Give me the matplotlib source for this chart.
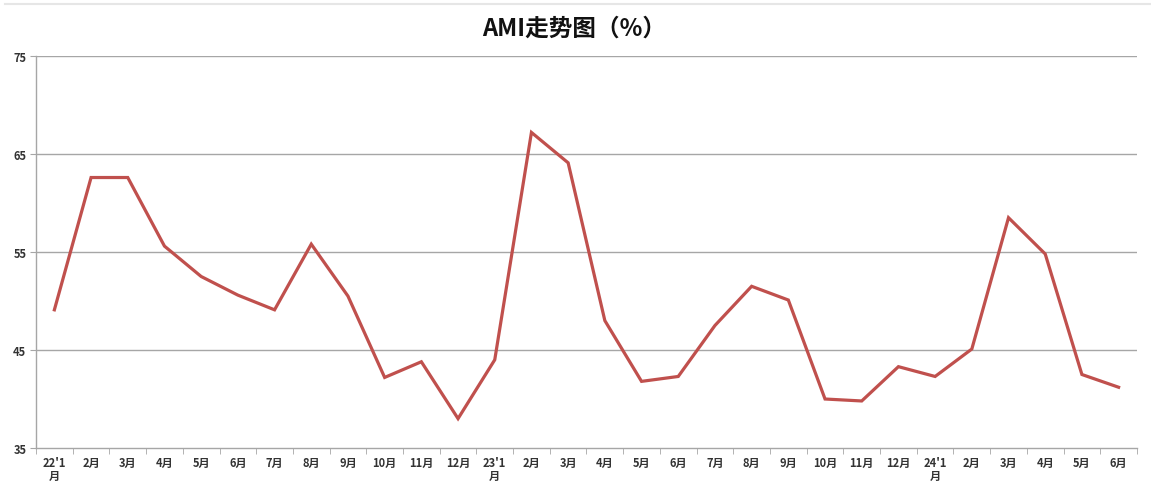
#!/usr/bin/env python3
"""AMI trend chart (%) - monthly values Jan 2022 to Jun 2024."""
import matplotlib
matplotlib.use("Agg")
import matplotlib.pyplot as plt
import numpy as np

plt.rcParams["font.family"] = ["Noto Sans CJK SC", "DejaVu Sans"]

# Month labels, as printed under the axis
months = [
    "22'1\n月", "2月", "3月", "4月", "5月", "6月", "7月", "8月", "9月", "10月", "11月", "12月",
    "23'1\n月", "2月", "3月", "4月", "5月", "6月", "7月", "8月", "9月", "10月", "11月", "12月",
    "24'1\n月", "2月", "3月", "4月", "5月", "6月",
]
# AMI values (%)
ami = [
    49.1, 62.6, 62.6, 55.6, 52.5, 50.6, 49.1, 55.8, 50.5, 42.2, 43.8, 38.0,
    44.0, 67.2, 64.1, 48.0, 41.8, 42.3, 47.5, 51.5, 50.1, 40.0, 39.8, 43.3,
    42.3, 45.1, 58.5, 54.8, 42.5, 41.2,
]
y_ticks = [35, 45, 55, 65, 75]

fig = plt.figure(figsize=(11.51, 4.85), dpi=100)
ax = fig.add_axes([0.0313, 0.0742, 0.9565, 0.8083])

x = np.arange(len(ami))
ax.plot(x, ami, color="#C0504D", linewidth=2.3, solid_joinstyle="miter")

ax.set_xlim(-0.5, len(ami) - 0.5)
ax.set_ylim(35, 75)
ax.set_yticks(y_ticks)
ax.set_yticklabels([str(v) for v in y_ticks])
for v in y_ticks[1:]:
    ax.axhline(v, color="#A6A6A6", linewidth=1.0, zorder=0)

# category labels centred, tick marks on the boundaries between months
ax.set_xticks(x)
ax.set_xticklabels(months, fontsize=8, color="#333333", fontweight="bold", linespacing=1.0)
ax.set_xticks(np.arange(-0.5, len(ami), 1.0), minor=True)
ax.tick_params(axis="x", which="major", length=0, pad=6)
ax.tick_params(axis="x", which="minor", length=4, color="#A6A6A6", direction="out")
ax.tick_params(axis="y", length=4, color="#A6A6A6", labelsize=8, labelcolor="#333333", pad=3)
for lbl in ax.get_yticklabels():
    lbl.set_fontweight("bold")

for side in ("top", "right"):
    ax.spines[side].set_visible(False)
for side in ("left", "bottom"):
    ax.spines[side].set_color("#A6A6A6")
    ax.spines[side].set_linewidth(1.0)

fig.text(0.4987, 0.940, "AMI走势图（%）", ha="center", va="center",
         fontsize=17, fontweight="bold", color="#111111")
# faint frame line along the top of the chart area
fig.add_artist(plt.Line2D([0.004, 1.0], [0.99, 0.99], color="#E6E6E6", linewidth=1.5))

fig.savefig("out.png", dpi=100)
plt.close(fig)
